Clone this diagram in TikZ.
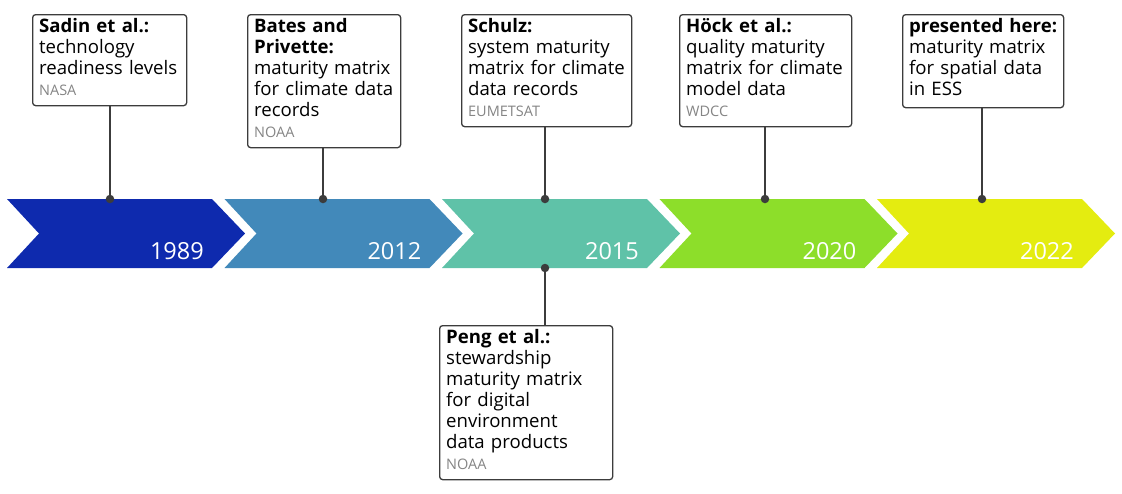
\documentclass[tikz,border=0pt]{standalone}
\usepackage{fontspec}
\setmainfont{Open Sans}
\usepackage{tikz}
\usetikzlibrary{
	arrows.meta,
	positioning
}
\usepackage{xcolor}

\definecolor{yearA}{HTML}{0E2AAE}
\definecolor{yearB}{HTML}{4289BA}
\definecolor{yearC}{HTML}{5FC2A8}
\definecolor{yearD}{HTML}{8DDE2A}
\definecolor{yearE}{HTML}{E4EC10}
\definecolor{linegray}{HTML}{3C3C3C}
\definecolor{srcgray}{HTML}{858585}

\newcommand{\src}[1]{\\{\color{srcgray}\fontsize{14.5}{21}\selectfont #1}\rule[-6pt]{0pt}{6pt}}

\tikzset{
	infobox/.style={draw=linegray, line width=1.3pt, rounded corners=3pt, fill=white,
		anchor=north west, align=left, inner xsep=6.5pt, inner ysep=4pt, text height=14pt,
		font=\fontsize{18.6}{21}\selectfont},
	pin/.style={circle, fill=linegray, inner sep=0pt, minimum size=8.5pt},
	stem/.style={draw=linegray, line width=1.5pt},
	year/.style={anchor=base east, text=white, inner sep=0pt, font=\fontsize{23.5}{28}\selectfont}
}

\begin{document}
\begin{tikzpicture}[>=Stealth, x=1pt, y=-1pt]
			
			\useasboundingbox (0,0) rectangle (1122,493);
			
			% timeline chevrons
			\fill[yearA] (7,199) -- ++(205,0) -- ++(33,34.5) -- ++(-33,34.5) -- ++(-205,0) -- ++(32,-34.5) -- cycle;
			\fill[yearB] (224.5,199) -- ++(205,0) -- ++(33,34.5) -- ++(-33,34.5) -- ++(-205,0) -- ++(32,-34.5) -- cycle;
			\fill[yearC] (442,199) -- ++(205,0) -- ++(33,34.5) -- ++(-33,34.5) -- ++(-205,0) -- ++(32,-34.5) -- cycle;
			\fill[yearD] (659.5,199) -- ++(205,0) -- ++(33,34.5) -- ++(-33,34.5) -- ++(-205,0) -- ++(32,-34.5) -- cycle;
			\fill[yearE] (877,199) -- ++(205,0) -- ++(33,34.5) -- ++(-33,34.5) -- ++(-205,0) -- ++(32,-34.5) -- cycle;
			
			\node[year] (y1) at (204,259) {1989};
			\node[year] (y2) at (421.5,259) {2012};
			\node[year] (y3) at (639,259) {2015};
			\node[year] (y4) at (856.5,259) {2020};
			\node[year] (y5) at (1074,259) {2022};
			
			% boxes
			\node[infobox, text width=141pt] (b1) at (32,14) {\textbf{Sadin et al.:}\\technology\\readiness levels\src{NASA}};
			\node[infobox, text width=140pt] (b2) at (247,14) {\textbf{Bates and}\\\textbf{Privette:}\\maturity matrix\\for climate data\\records\src{NOAA}};
			\node[infobox, text width=157pt] (b3) at (461,14) {\textbf{Schulz:}\\system maturity\\matrix for climate\\data records\src{EUMETSAT}};
			\node[infobox, text width=159pt] (b4) at (679,14) {\textbf{Höck et al.:}\\quality maturity\\matrix for climate\\model data\src{WDCC}};
			\node[infobox, text width=148pt] (b5) at (902,14) {\textbf{presented here:}\\maturity matrix\\for spatial data\\in ESS\rule[-8pt]{0pt}{8pt}};
			\node[infobox, text width=160pt] (b6) at (439,325) {\textbf{Peng et al.:}\\stewardship\\maturity matrix\\for digital\\environment\\data products\src{NOAA}};
			
			% pins on the timeline
			\node[pin] (d1) at (110,199) {};
			\node[pin] (d2) at (323,199) {};
			\node[pin] (d3) at (545,199) {};
			\node[pin] (d4) at (765,199) {};
			\node[pin] (d5) at (982,199) {};
			\node[pin] (d6) at (545,268) {};
			
			\draw[stem] (b1.south -| d1) -- (d1.center);
			\draw[stem] (b2.south -| d2) -- (d2.center);
			\draw[stem] (b3.south -| d3) -- (d3.center);
			\draw[stem] (b4.south -| d4) -- (d4.center);
			\draw[stem] (b5.south -| d5) -- (d5.center);
			\draw[stem] (d6.center) -- (b6.north -| d6);
			
		\end{tikzpicture}
\end{document}
